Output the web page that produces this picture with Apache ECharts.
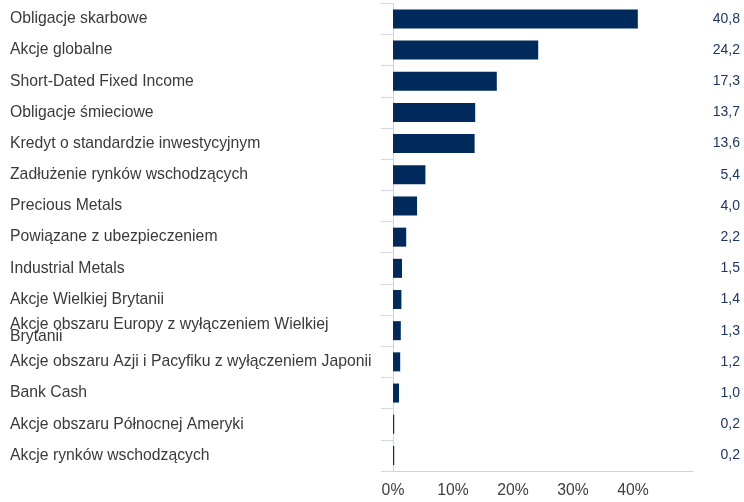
<!DOCTYPE html>
<html>
<head>
<meta charset="utf-8">
<script src="https://cdn.jsdelivr.net/npm/echarts@6/dist/echarts.min.js"></script>
<style>
  html, body { margin: 0; padding: 0; background: #fff; }
  #chart { width: 744px; height: 502px; }
</style>
</head>
<body>
<div id="chart"></div>
<script>
  // kategorie (od góry)
  const categories = [
    'Obligacje skarbowe',
    'Akcje globalne',
    'Short-Dated Fixed Income',
    'Obligacje śmieciowe',
    'Kredyt o standardzie inwestycyjnym',
    'Zadłużenie rynków wschodzących',
    'Precious Metals',
    'Powiązane z ubezpieczeniem',
    'Industrial Metals',
    'Akcje Wielkiej Brytanii',
    'Akcje obszaru Europy z wyłączeniem Wielkiej\nBrytanii',
    'Akcje obszaru Azji i Pacyfiku z wyłączeniem Japonii',
    'Bank Cash',
    'Akcje obszaru Północnej Ameryki',
    'Akcje rynków wschodzących'
  ];
  const values = [40.8, 24.2, 17.3, 13.7, 13.6, 5.4, 4.0, 2.2, 1.5, 1.4, 1.3, 1.2, 1.0, 0.2, 0.2];
  const xTicks = [0, 10, 20, 30, 40, 50];

  const fmt = v => v.toFixed(1).replace('.', ',');
  const font = 'Liberation Sans, Arial, Helvetica, sans-serif';

  const myChart = echarts.init(document.getElementById('chart'));
  myChart.setOption({
    animation: false,
    grid: { left: 393, right: 51, top: 3.3, bottom: 31, containLabel: false },
    xAxis: {
      type: 'value',
      min: xTicks[0],
      max: xTicks[xTicks.length - 1],
      interval: 10,
      splitLine: { show: false },
      axisTick: { show: false },
      axisLine: { show: true, lineStyle: { color: '#cfd5e2', width: 1 } },
      axisLabel: {
        showMaxLabel: false,
        margin: 12,
        color: '#404040',
        fontSize: 15.75,
        fontFamily: font,
        formatter: v => v + '%'
      }
    },
    yAxis: [
      {
        type: 'category',
        inverse: true,
        data: categories,
        axisLine: { show: true, lineStyle: { color: '#d4d4d4', width: 1 } },
        axisTick: { show: true, length: 12, lineStyle: { color: '#d3d9e8' } },
        axisLabel: {
          align: 'left',
          margin: 383,
          padding: [4, 0, 0, 0],
          color: '#3a3a3a',
          fontSize: 15.75,
          lineHeight: 12.5,
          fontFamily: font
        }
      },
      {
        type: 'category',
        inverse: true,
        position: 'right',
        data: values.map(fmt),
        axisLine: { show: false },
        axisTick: { show: false },
        axisLabel: {
          align: 'right',
          margin: 47,
          padding: [4, 0, 0, 0],
          color: '#1c3667',
          fontSize: 14,
          fontFamily: font
        }
      }
    ],
    series: [
      {
        type: 'bar',
        data: values,
        barCategoryGap: '39%',
        itemStyle: { color: '#002a5c' }
      }
    ]
  });
</script>
</body>
</html>
